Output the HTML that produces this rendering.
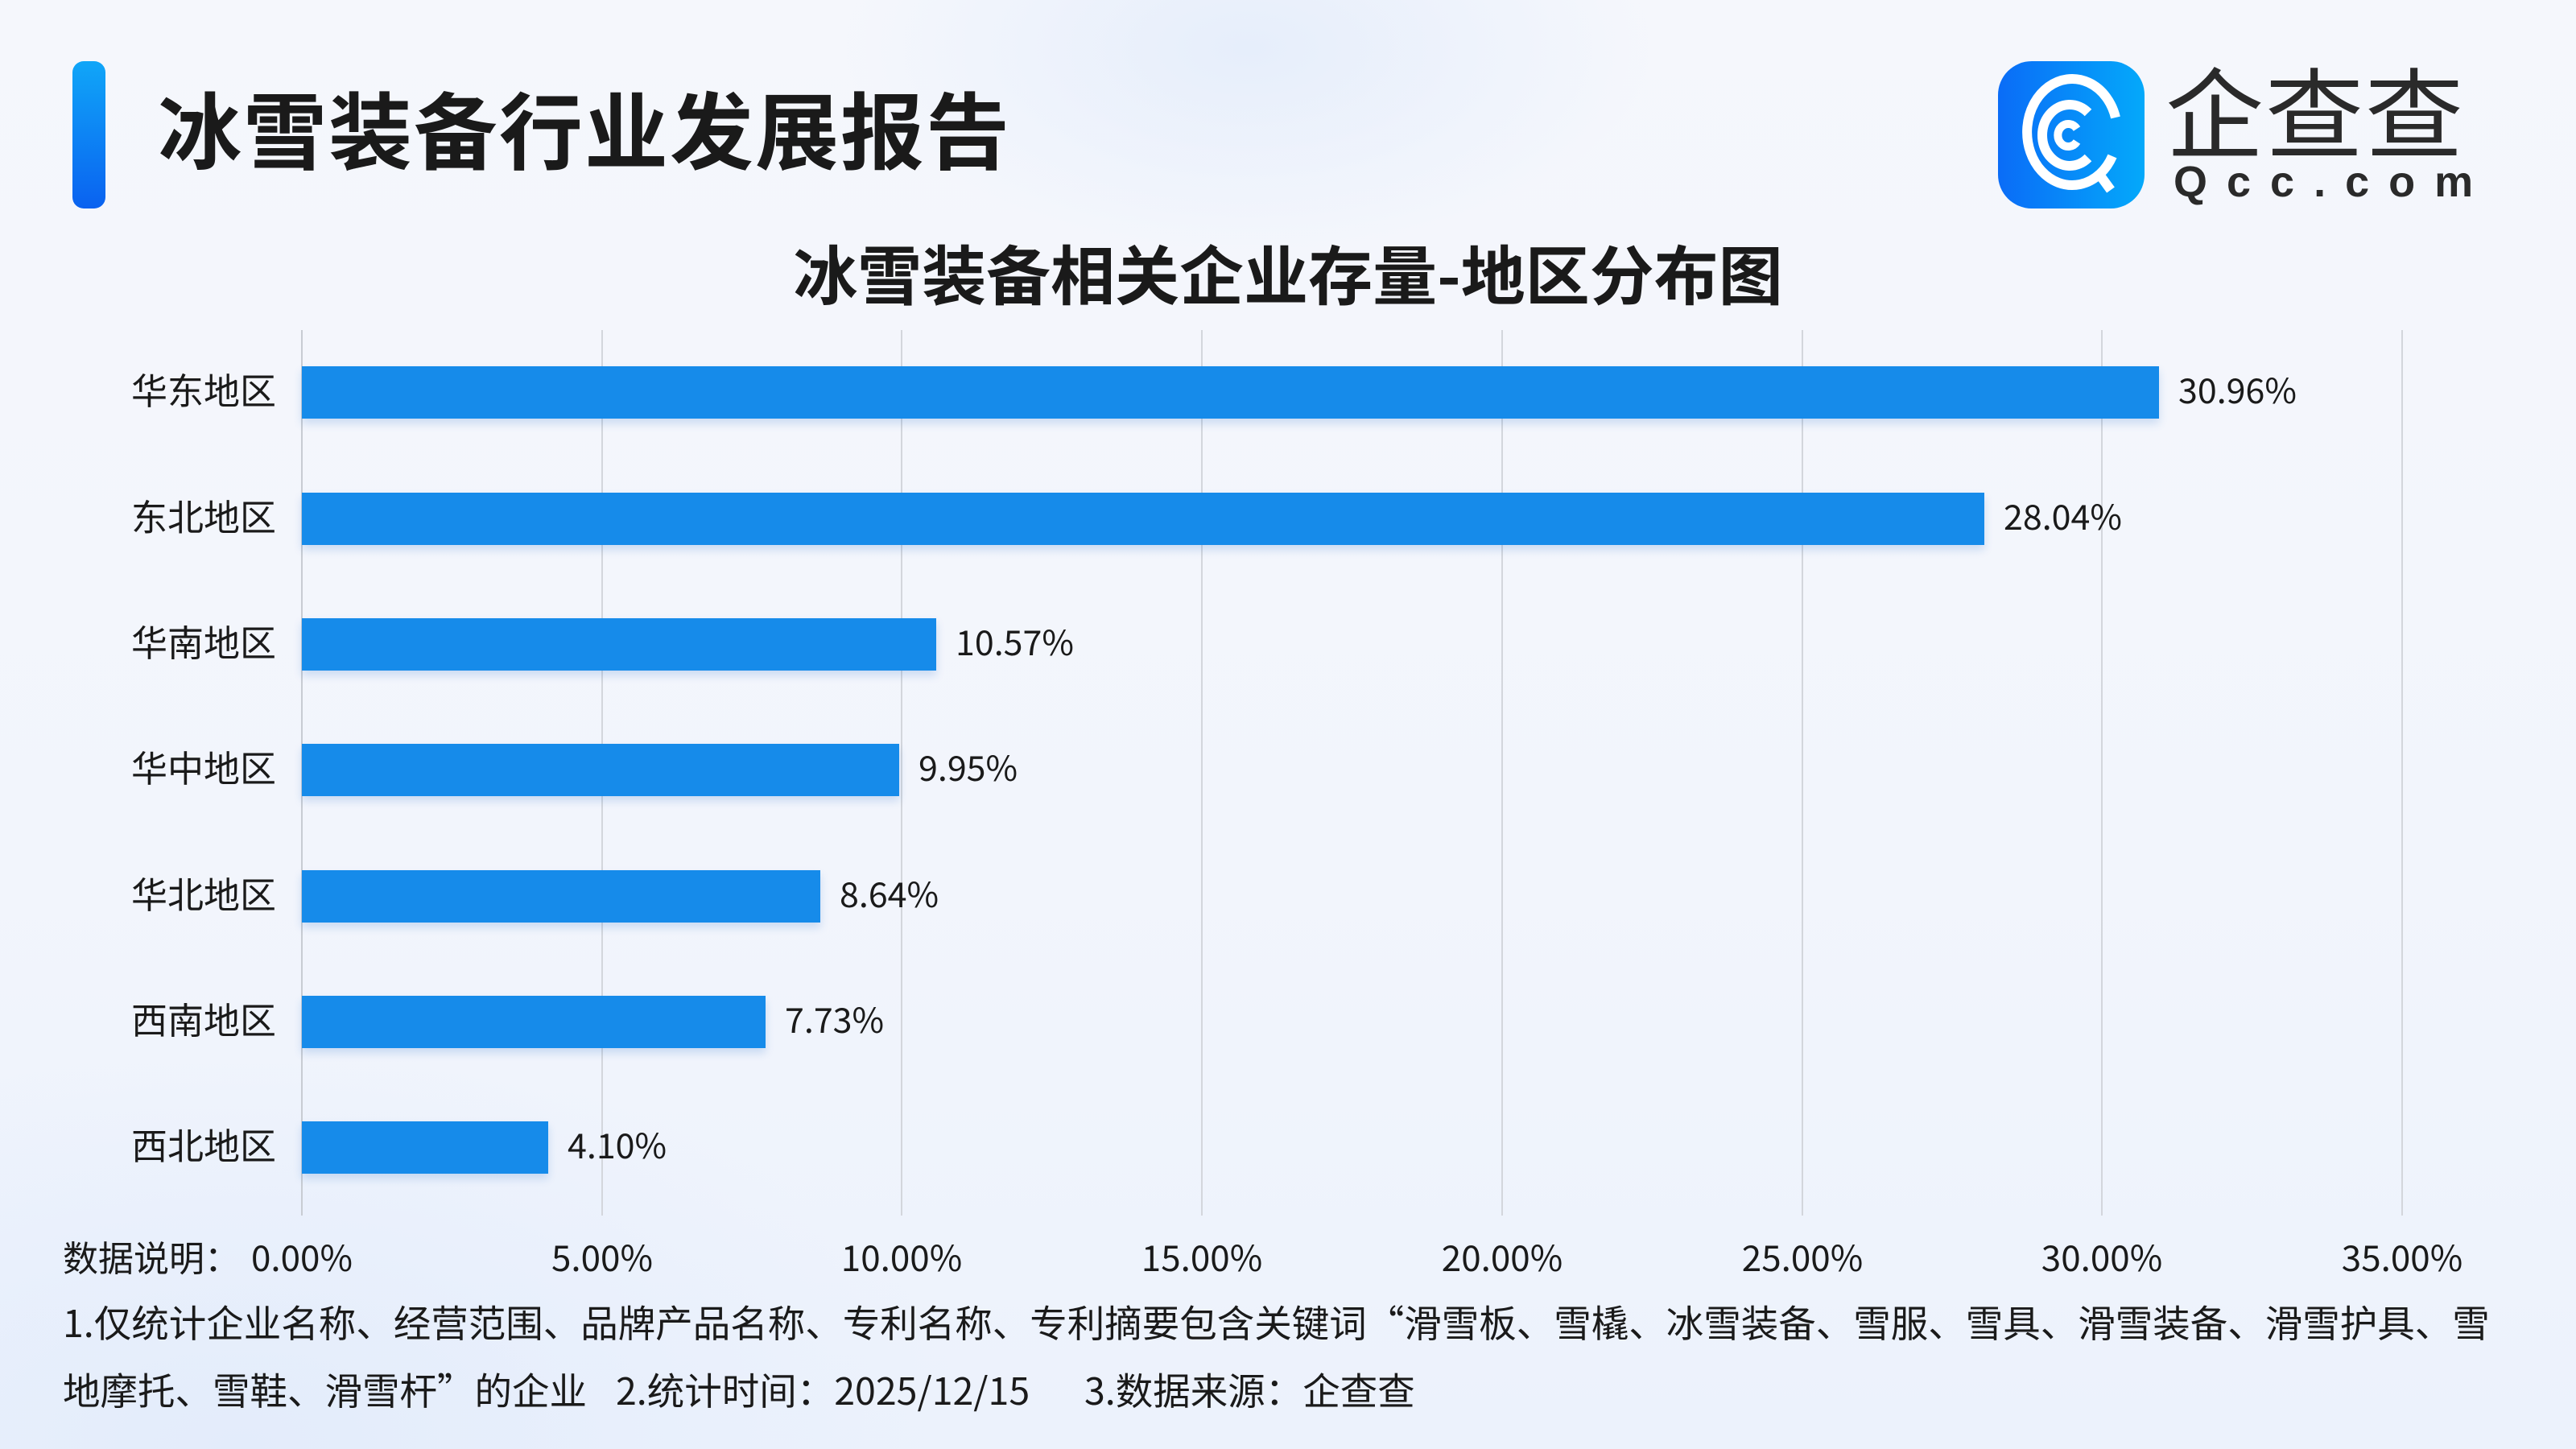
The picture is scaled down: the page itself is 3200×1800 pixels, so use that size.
<!DOCTYPE html>
<html><head><meta charset="utf-8"><style>
*{margin:0;padding:0;box-sizing:border-box}
body{width:3200px;height:1800px;overflow:hidden;position:relative;font-family:"Noto Sans CJK SC","Liberation Sans",sans-serif;color:#1a1a1a;
background:radial-gradient(ellipse 500px 260px at 1550px 60px,#e6eefb 0%,rgba(230,238,251,0) 100%),radial-gradient(ellipse 900px 500px at 300px 1800px,#e3ecfb 0%,rgba(227,236,251,0) 100%),linear-gradient(180deg,#f5f7fc 0%,#f2f5fc 60%,#ecf2fc 100%)}
.a{position:absolute;white-space:nowrap}
.bar{position:absolute;left:375px;height:65px;background:#168bea;box-shadow:0 6px 10px rgba(22,100,200,0.18)}
.cat{position:absolute;right:2857px;font-size:45px;line-height:45px;text-align:right}
.val{position:absolute;font-size:43px;line-height:43px}
.g{position:absolute;top:410px;height:1100px;width:2px;background:#d3d6dc}
.t{position:absolute;top:1535px;font-size:44px;line-height:50px;transform:translateX(-50%)}
.f{position:absolute;font-size:46.5px;line-height:50px}
</style></head><body>
<div class="a" style="left:90px;top:76px;width:41px;height:183px;border-radius:14px;background:linear-gradient(180deg,#10a6f8,#0a62f0)"></div>
<div class="a" style="left:196px;top:92px;font-size:104px;line-height:130px;font-weight:bold;letter-spacing:2px">冰雪装备行业发展报告</div>
<div class="a" style="left:2482px;top:76px;width:182px;height:183px;border-radius:42px;background:linear-gradient(90deg,#0a6cf7,#04a9fa)">
<svg width="182" height="183" viewBox="0 0 182 183"><g fill="none" stroke="#fff" stroke-linecap="butt"><path d="M142 118 A56 66 0 1 1 146 70" stroke-width="12"/><path d="M112 64 A34 38 0 1 0 112 120" stroke-width="12"/><path d="M98 84 A13 14 0 1 0 98 100" stroke-width="10"/><path d="M124 138 L140 160" stroke-width="12"/></g></svg></div>
<div class="a" style="left:2690px;top:70px;font-size:122px;line-height:130px;color:#2a2a2a;letter-spacing:2px">企查查</div>
<div class="a" style="left:2700px;top:196px;font-size:54px;line-height:60px;color:#2a2a2a;letter-spacing:24px;font-family:'Liberation Sans',sans-serif;font-weight:bold">Qcc.com</div>
<div class="a" style="left:0;width:3200px;text-align:center;top:286px;font-size:80px;line-height:104px;font-weight:bold">冰雪装备相关企业存量-地区分布图</div>

<div class="g" style="left:374px;background:#c8ccd3"></div>
<div class="g" style="left:747px"></div>
<div class="g" style="left:1119px"></div>
<div class="g" style="left:1492px"></div>
<div class="g" style="left:1865px"></div>
<div class="g" style="left:2238px"></div>
<div class="g" style="left:2610px"></div>
<div class="g" style="left:2983px"></div>

<div class="bar" style="top:455px;width:2307px"></div><div class="cat" style="top:460px">华东地区</div><div class="val" style="left:2706px;top:462px">30.96%</div>
<div class="bar" style="top:612px;width:2090px"></div><div class="cat" style="top:617px">东北地区</div><div class="val" style="left:2489px;top:619px">28.04%</div>
<div class="bar" style="top:768px;width:788px"></div><div class="cat" style="top:773px">华南地区</div><div class="val" style="left:1187px;top:775px">10.57%</div>
<div class="bar" style="top:924px;width:742px"></div><div class="cat" style="top:929px">华中地区</div><div class="val" style="left:1141px;top:931px">9.95%</div>
<div class="bar" style="top:1081px;width:644px"></div><div class="cat" style="top:1086px">华北地区</div><div class="val" style="left:1043px;top:1088px">8.64%</div>
<div class="bar" style="top:1237px;width:576px"></div><div class="cat" style="top:1242px">西南地区</div><div class="val" style="left:975px;top:1244px">7.73%</div>
<div class="bar" style="top:1393px;width:306px"></div><div class="cat" style="top:1398px">西北地区</div><div class="val" style="left:705px;top:1400px">4.10%</div>

<div class="a" style="left:78px;top:1535px;font-size:44px;line-height:50px">数据说明：</div>
<div class="t" style="left:375px">0.00%</div>
<div class="t" style="left:748px">5.00%</div>
<div class="t" style="left:1120px">10.00%</div>
<div class="t" style="left:1493px">15.00%</div>
<div class="t" style="left:1866px">20.00%</div>
<div class="t" style="left:2239px">25.00%</div>
<div class="t" style="left:2611px">30.00%</div>
<div class="t" style="left:2984px">35.00%</div>
<div class="f a" style="left:78px;top:1617px">1.仅统计企业名称、经营范围、品牌产品名称、专利名称、专利摘要包含关键词“滑雪板、雪橇、冰雪装备、雪服、雪具、滑雪装备、滑雪护具、雪</div>
<div class="f a" style="left:78px;top:1701px">地摩托、雪鞋、滑雪杆”的企业</div>
<div class="f a" style="left:765px;top:1701px">2.统计时间：2025/12/15</div>
<div class="f a" style="left:1347px;top:1701px">3.数据来源：企查查</div>
</body></html>
